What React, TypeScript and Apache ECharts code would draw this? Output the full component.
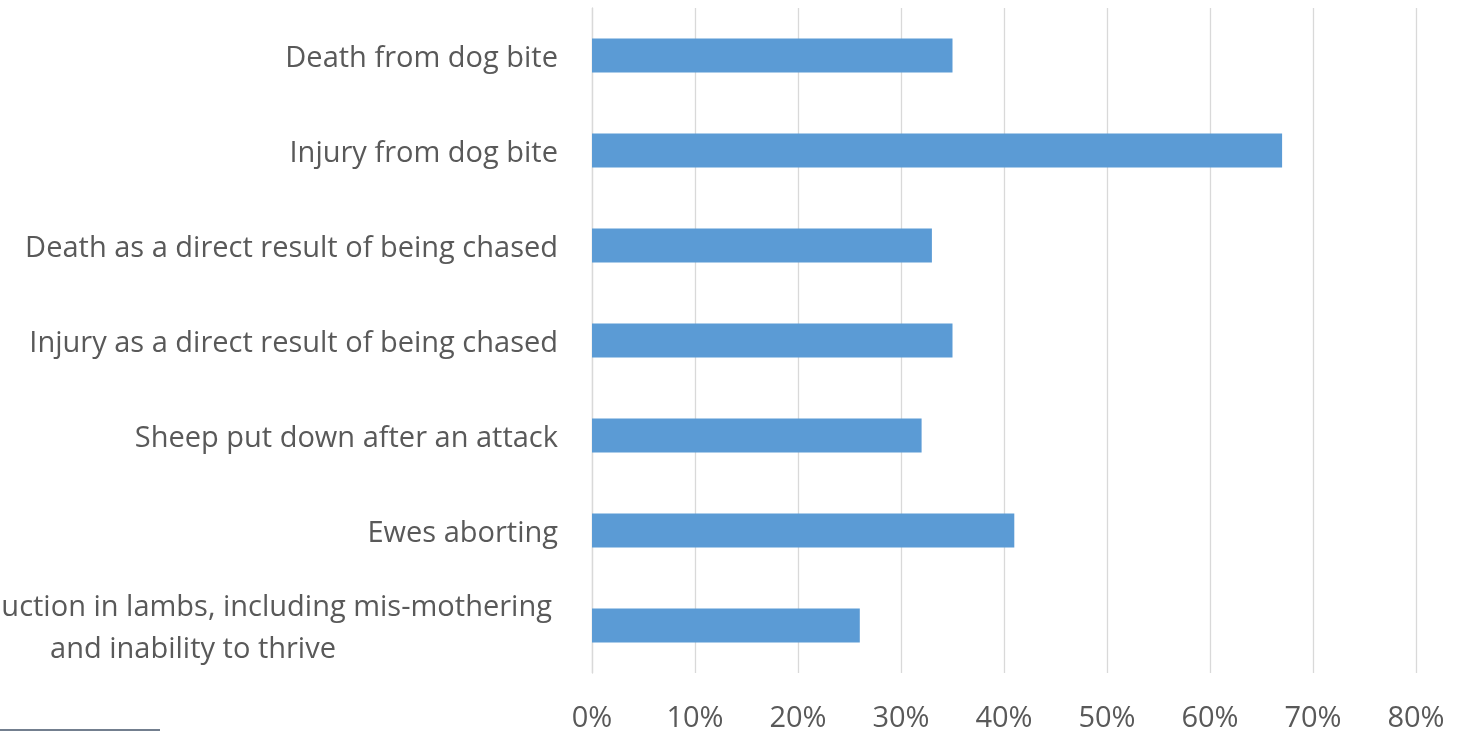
import React, { useEffect, useRef } from "react";
import * as echarts from "echarts";

const categories = [
  "Death from dog bite",
  "Injury from dog bite",
  "Death as a direct result of being chased",
  "Injury as a direct result of being chased",
  "Sheep put down after an attack",
  "Ewes aborting",
  "Loss of production in lambs, including mis-mothering\nand inability to thrive",
];
const values = [35, 67, 33, 35, 32, 41, 26];
const tickLabels = ["0%", "10%", "20%", "30%", "40%", "50%", "60%", "70%", "80%"];

export default function App() {
  const ref = useRef<HTMLDivElement>(null);
  useEffect(() => {
    document.body.style.margin = "0";
    const chart = echarts.init(ref.current!, null, { renderer: "svg" });
    const font = "Open Sans";
    chart.setOption({
      animation: false,
      grid: {
        left: 592,
        right: 49,
        top: 8,
        bottom: 58,
        containLabel: false,
        outerBoundsMode: "none",
      },
      xAxis: {
        type: "value",
        min: 0,
        max: 80,
        interval: 10,
        axisLine: { show: false },
        axisTick: { show: false },
        splitLine: { show: true, lineStyle: { color: "#d9d9d9", width: 1.3 } },
        axisLabel: {
          color: "#595959",
          fontFamily: font,
          fontSize: 29,
          margin: 28,
          formatter: (v: number) => tickLabels[Math.round(v / 10)] ?? v + "%",
        },
      },
      yAxis: {
        type: "category",
        inverse: true,
        data: categories,
        axisLine: { show: true, lineStyle: { color: "#d9d9d9", width: 1.3 } },
        axisTick: { show: false },
        axisLabel: {
          color: "#595959",
          fontFamily: font,
          fontSize: 29,
          margin: 34,
          lineHeight: 42,
          formatter: (v: string) => {
            if (v.indexOf("\n") >= 0) {
              return v
                .split("\n")
                .map((l) => "{c|" + l + "}")
                .join("\n");
            }
            return v;
          },
          rich: {
            c: {
              width: 730,
              align: "center",
              color: "#595959",
              fontFamily: font,
              fontSize: 29,
              lineHeight: 42,
            },
          },
        },
      },
      series: [
        {
          type: "bar",
          data: values,
          barWidth: 34,
          itemStyle: { color: "#5b9bd5" },
        },
      ],
      graphic: [
        {
          type: "line",
          shape: { x1: 0, y1: 730, x2: 160, y2: 730 },
          style: { stroke: "#44546a", lineWidth: 1.5 },
        },
      ],
    });
    return () => chart.dispose();
  }, []);
  return (
    <div
      ref={ref}
      style={{ position: "fixed", left: 0, top: 0, width: 1465, height: 731 }}
    />
  );
}
